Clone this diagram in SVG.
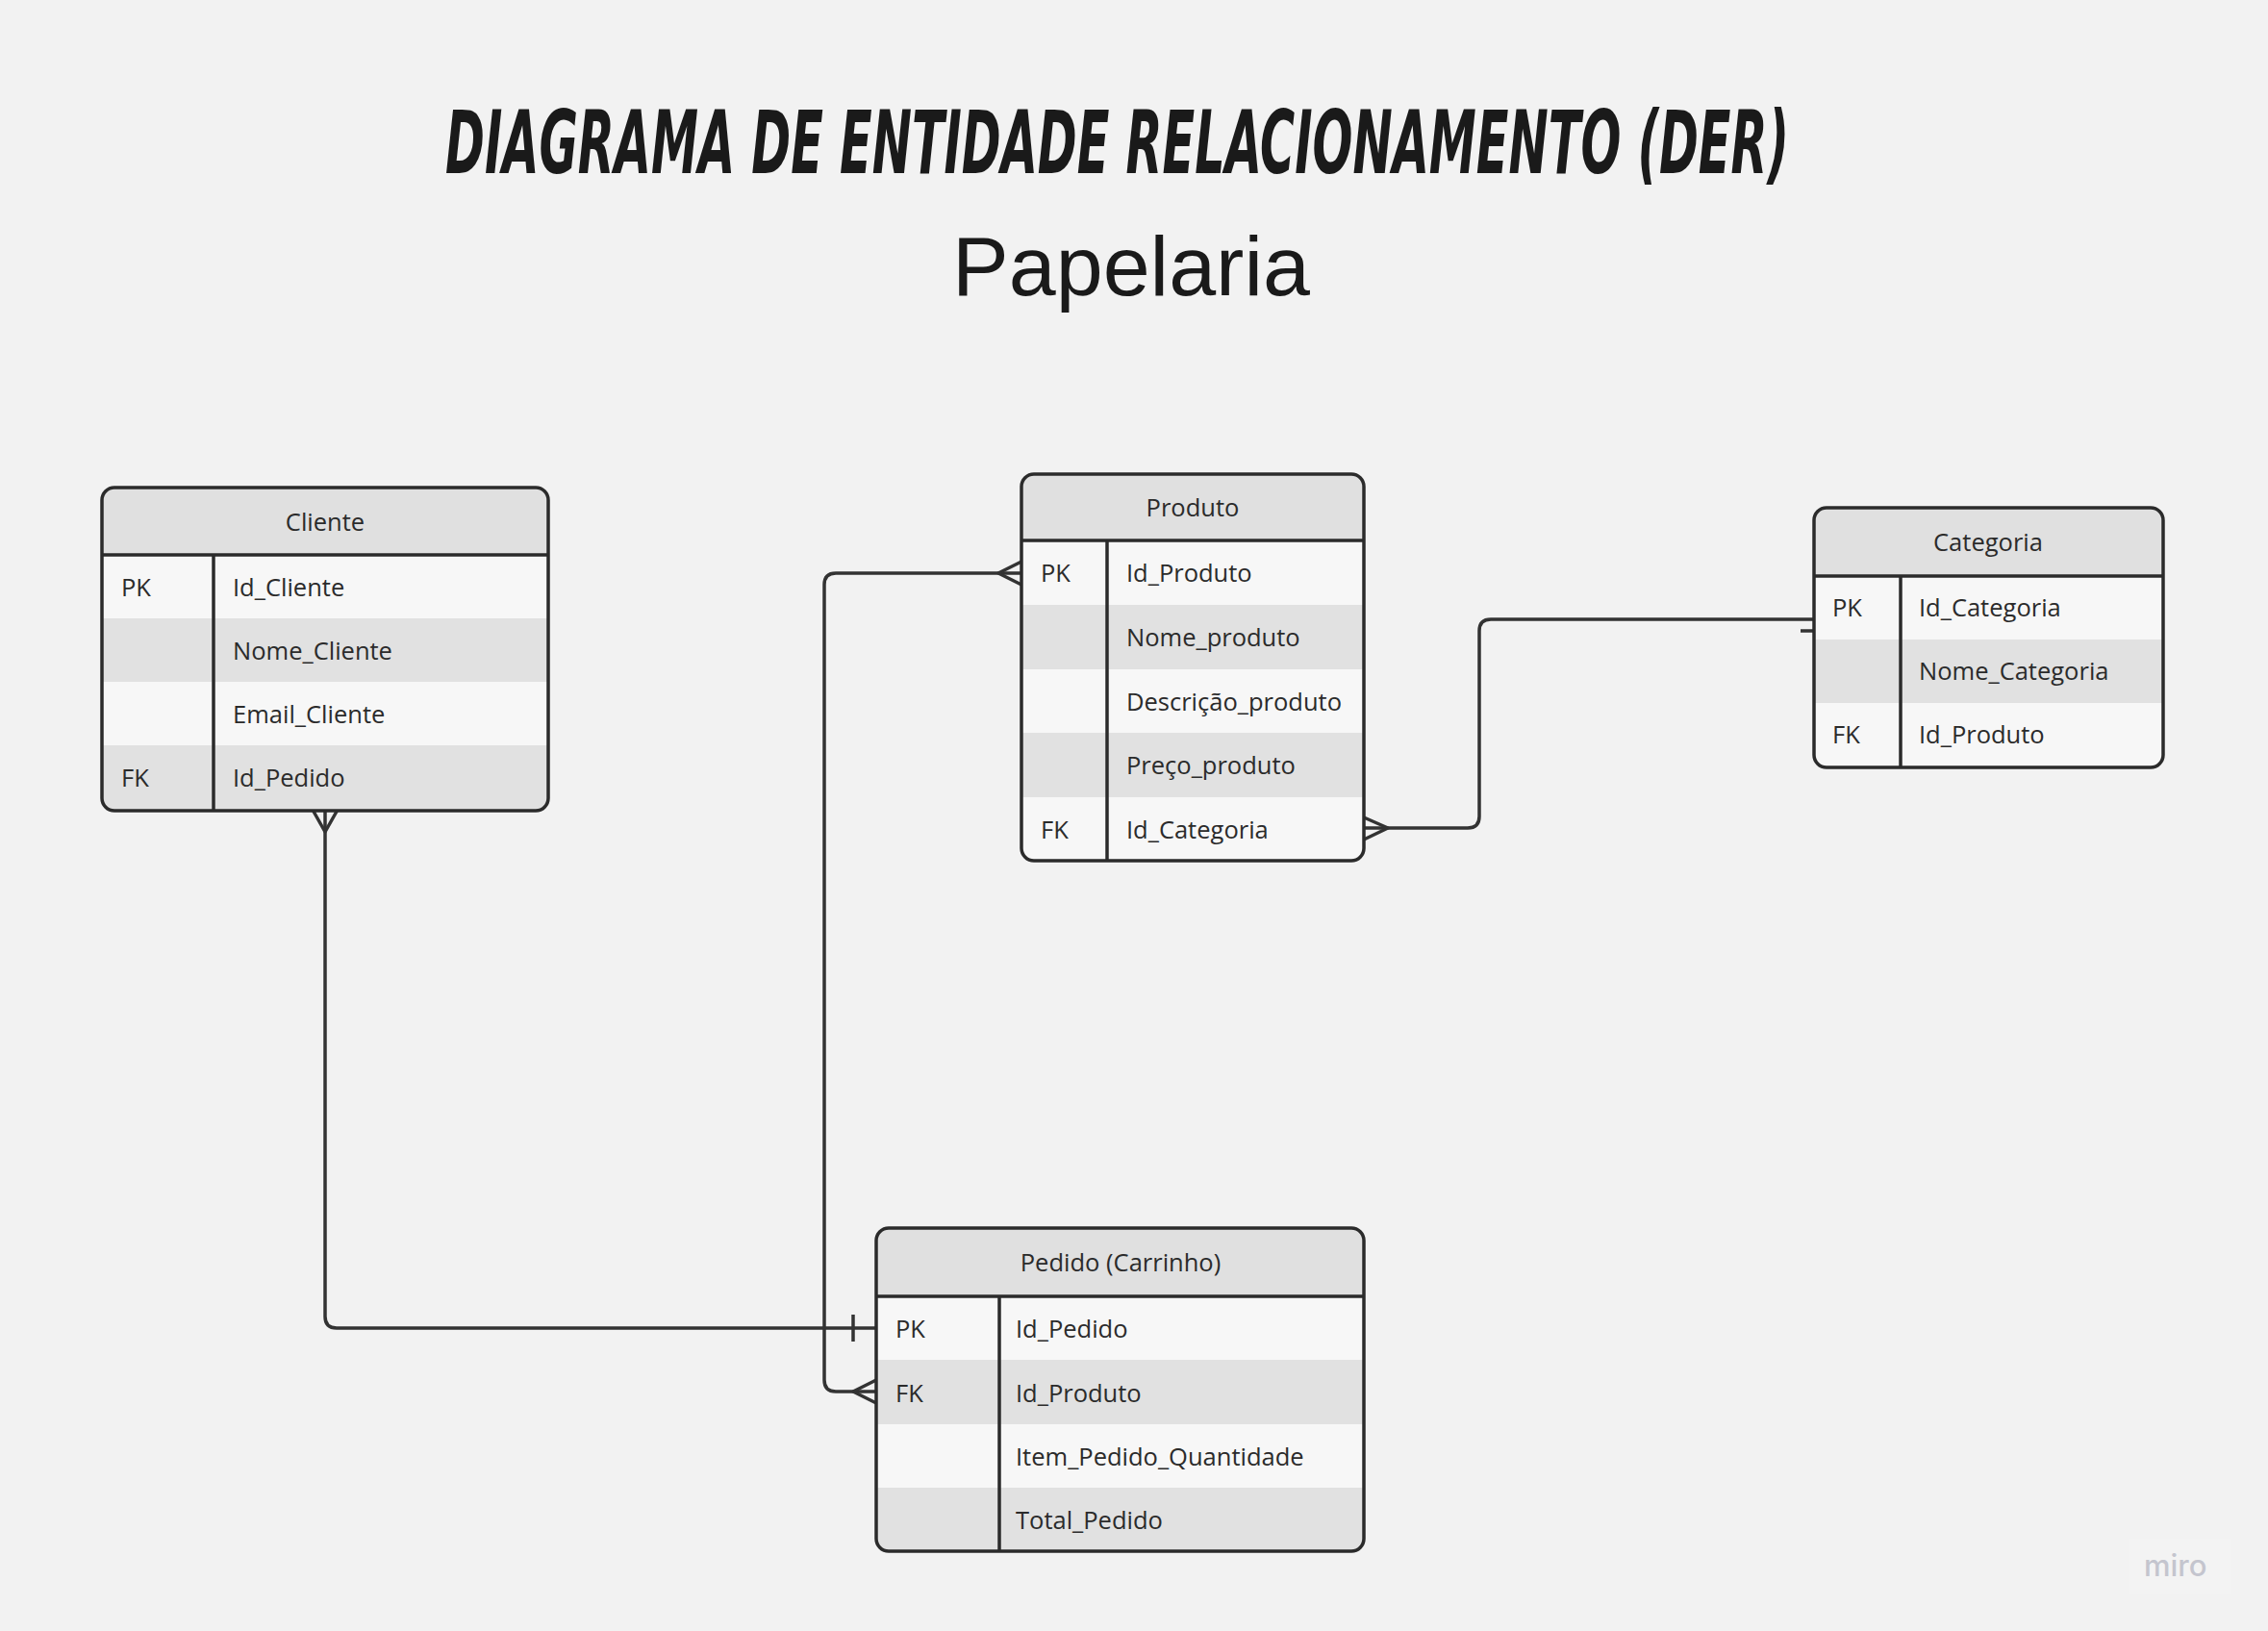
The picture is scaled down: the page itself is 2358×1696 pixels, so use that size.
<svg xmlns="http://www.w3.org/2000/svg" width="2358" height="1696" viewBox="0 0 2358 1696">
<style>
.bg{fill:#f2f2f2}
.hdr{fill:#e0e0e0}
.lt{fill:#f7f7f7}
.gr{fill:#e1e1e1}
.frame{fill:none;stroke:#2b2b2b;stroke-width:3.5}
.sep{stroke:#2b2b2b;stroke-width:3.5}
.t{font-family:"Open Sans","Noto Sans",sans-serif;font-size:25.5px;fill:#2b2b2b}
.h{text-anchor:middle}
.con{fill:none;stroke:#333333;stroke-width:3.5;stroke-linejoin:round}
</style>
<defs>
<clipPath id="cCli"><rect x="106" y="507" width="464" height="336" rx="13"/></clipPath>
<clipPath id="cPro"><rect x="1062" y="493" width="356" height="402" rx="13"/></clipPath>
<clipPath id="cCat"><rect x="1886" y="528" width="363" height="270" rx="13"/></clipPath>
<clipPath id="cPed"><rect x="911" y="1277" width="507" height="336" rx="13"/></clipPath>
</defs>
<rect class="bg" x="0" y="0" width="2358" height="1696"/>

<g id="title">
<text x="463" y="180" textLength="1397" lengthAdjust="spacingAndGlyphs" font-family="DejaVu Sans, sans-serif" font-weight="bold" font-style="italic" font-stretch="condensed" font-size="90" fill="#1a1a1a">DIAGRAMA DE ENTIDADE RELACIONAMENTO (DER)</text>
<text x="1176" y="307" text-anchor="middle" font-family="Liberation Sans, Arial, sans-serif" font-size="88" fill="#1a1a1a">Papelaria</text>
</g>

<g id="connectors">
<path class="con" d="M338,843 V1369 Q338,1381 350,1381 H911"/>
<path class="con" d="M325,842 L338,865 L351,842"/>
<path class="con" d="M887,1367 V1395"/>
<path class="con" d="M1062,596 H869 Q857,596 857,608 V1435 Q857,1447 869,1447 H911"/>
<path class="con" d="M1062,584 L1038,596 L1062,608"/>
<path class="con" d="M911,1435 L887,1447 L911,1459"/>
<path class="con" d="M1418,861 H1526 Q1538,861 1538,849 V656 Q1538,644 1550,644 H1886"/>
<path class="con" d="M1418,850 L1443,861 L1418,873"/>
<path class="con" d="M1872,656 H1900"/>
</g>

<g id="cliente">
<g clip-path="url(#cCli)">
<rect class="hdr" x="106" y="507" width="464" height="70"/>
<rect class="lt" x="106" y="577" width="464" height="66"/>
<rect class="gr" x="106" y="643" width="464" height="66"/>
<rect class="lt" x="106" y="709" width="464" height="66"/>
<rect class="gr" x="106" y="775" width="464" height="68"/>
</g>
<line class="sep" x1="106" y1="577" x2="570" y2="577"/>
<line class="sep" x1="222" y1="577" x2="222" y2="843"/>
<rect class="frame" x="106" y="507" width="464" height="336" rx="13"/>
<text class="t h" x="338" y="552">Cliente</text>
<text class="t" x="126" y="620">PK</text><text class="t" x="242" y="620">Id_Cliente</text>
<text class="t" x="242" y="686">Nome_Cliente</text>
<text class="t" x="242" y="752">Email_Cliente</text>
<text class="t" x="126" y="818">FK</text><text class="t" x="242" y="818">Id_Pedido</text>
</g>

<g id="produto">
<g clip-path="url(#cPro)">
<rect class="hdr" x="1062" y="493" width="356" height="69"/>
<rect class="lt" x="1062" y="562" width="356" height="67"/>
<rect class="gr" x="1062" y="629" width="356" height="67"/>
<rect class="lt" x="1062" y="696" width="356" height="66"/>
<rect class="gr" x="1062" y="762" width="356" height="67"/>
<rect class="lt" x="1062" y="829" width="356" height="66"/>
</g>
<line class="sep" x1="1062" y1="562" x2="1418" y2="562"/>
<line class="sep" x1="1151" y1="562" x2="1151" y2="895"/>
<rect class="frame" x="1062" y="493" width="356" height="402" rx="13"/>
<text class="t h" x="1240" y="537">Produto</text>
<text class="t" x="1082" y="605">PK</text><text class="t" x="1171" y="605">Id_Produto</text>
<text class="t" x="1171" y="672">Nome_produto</text>
<text class="t" x="1171" y="739">Descrição_produto</text>
<text class="t" x="1171" y="805">Preço_produto</text>
<text class="t" x="1082" y="872">FK</text><text class="t" x="1171" y="872">Id_Categoria</text>
</g>

<g id="categoria">
<g clip-path="url(#cCat)">
<rect class="hdr" x="1886" y="528" width="363" height="71"/>
<rect class="lt" x="1886" y="599" width="363" height="66"/>
<rect class="gr" x="1886" y="665" width="363" height="66"/>
<rect class="lt" x="1886" y="731" width="363" height="67"/>
</g>
<line class="sep" x1="1886" y1="599" x2="2249" y2="599"/>
<line class="sep" x1="1976" y1="599" x2="1976" y2="798"/>
<rect class="frame" x="1886" y="528" width="363" height="270" rx="13"/>
<text class="t h" x="2067" y="573">Categoria</text>
<text class="t" x="1905" y="641">PK</text><text class="t" x="1995" y="641">Id_Categoria</text>
<text class="t" x="1995" y="707">Nome_Categoria</text>
<text class="t" x="1905" y="773">FK</text><text class="t" x="1995" y="773">Id_Produto</text>
</g>

<g id="pedido">
<g clip-path="url(#cPed)">
<rect class="hdr" x="911" y="1277" width="507" height="71"/>
<rect class="lt" x="911" y="1348" width="507" height="66"/>
<rect class="gr" x="911" y="1414" width="507" height="67"/>
<rect class="lt" x="911" y="1481" width="507" height="66"/>
<rect class="gr" x="911" y="1547" width="507" height="66"/>
</g>
<line class="sep" x1="911" y1="1348" x2="1418" y2="1348"/>
<line class="sep" x1="1039" y1="1348" x2="1039" y2="1613"/>
<rect class="frame" x="911" y="1277" width="507" height="336" rx="13"/>
<text class="t h" x="1165" y="1322">Pedido (Carrinho)</text>
<text class="t" x="931" y="1391">PK</text><text class="t" x="1056" y="1391">Id_Pedido</text>
<text class="t" x="931" y="1458">FK</text><text class="t" x="1056" y="1458">Id_Produto</text>
<text class="t" x="1056" y="1524">Item_Pedido_Quantidade</text>
<text class="t" x="1056" y="1590">Total_Pedido</text>
</g>

<g id="miro">
<rect x="2213" y="1600" width="107" height="58" fill="#f3f3f3"/>
<text x="2229" y="1639" font-family="Inter, Lato, sans-serif" font-weight="500" font-size="31" fill="#c4c5ce">miro</text>
</g>
</svg>
